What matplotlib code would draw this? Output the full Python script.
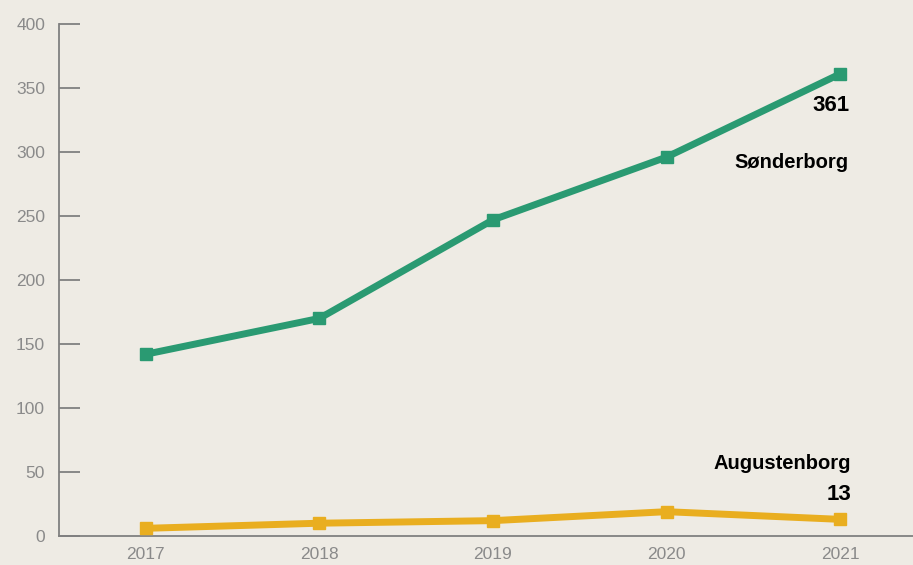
import matplotlib
matplotlib.use("Agg")
import matplotlib.pyplot as plt

years = [2017, 2018, 2019, 2020, 2021]
sonderborg = [142, 170, 247, 296, 361]
augustenborg = [6, 10, 12, 19, 13]
yticks = [0, 50, 100, 150, 200, 250, 300, 350, 400]

bg = "#eeebe4"
green = "#2a9a72"
yellow = "#e9ae20"
grey = "#808080"

plt.rcParams["font.family"] = ["Liberation Sans", "DejaVu Sans"]

fig = plt.figure(figsize=(9.13, 5.65), dpi=100, facecolor=bg)
ax = fig.add_axes([59 / 913, 29 / 565, 1 - 59 / 913, 512 / 565], facecolor=bg)

ax.plot(years, sonderborg, color=green, lw=5, marker="s", ms=9,
        solid_joinstyle="miter", clip_on=False, zorder=3)
ax.plot(years, augustenborg, color=yellow, lw=5, marker="s", ms=9,
        solid_joinstyle="miter", clip_on=False, zorder=3)

ax.set_xlim(2016.5, 2021.42)
ax.set_ylim(0, 400)
ax.set_xticks(years)
ax.set_yticks(yticks)

for s in ["top", "right"]:
    ax.spines[s].set_visible(False)
for s in ["left", "bottom"]:
    ax.spines[s].set_color(grey)
    ax.spines[s].set_linewidth(1.3)

ax.tick_params(axis="y", direction="in", length=15, width=1.3, color=grey,
               labelcolor="#8a8a8a", labelsize=12.5, pad=10)
ax.tick_params(axis="x", length=0, labelcolor="#8a8a8a", labelsize=12.5, pad=8)

bold = dict(fontweight="bold", color="black", ha="right", va="center",
            textcoords="offset points")
ax.annotate("361", xy=(years[-1], sonderborg[-1]), xytext=(7, -23), fontsize=16, **bold)
ax.annotate("Sønderborg", xy=(years[-1], sonderborg[-1]), xytext=(6, -64),
            fontsize=14.5, **bold)
ax.annotate("Augustenborg", xy=(years[-1], augustenborg[-1]), xytext=(8, 40),
            fontsize=14.5, **bold)
ax.annotate("13", xy=(years[-1], augustenborg[-1]), xytext=(8, 18), fontsize=16, **bold)

fig.savefig("out.png", dpi=100, facecolor=bg)
